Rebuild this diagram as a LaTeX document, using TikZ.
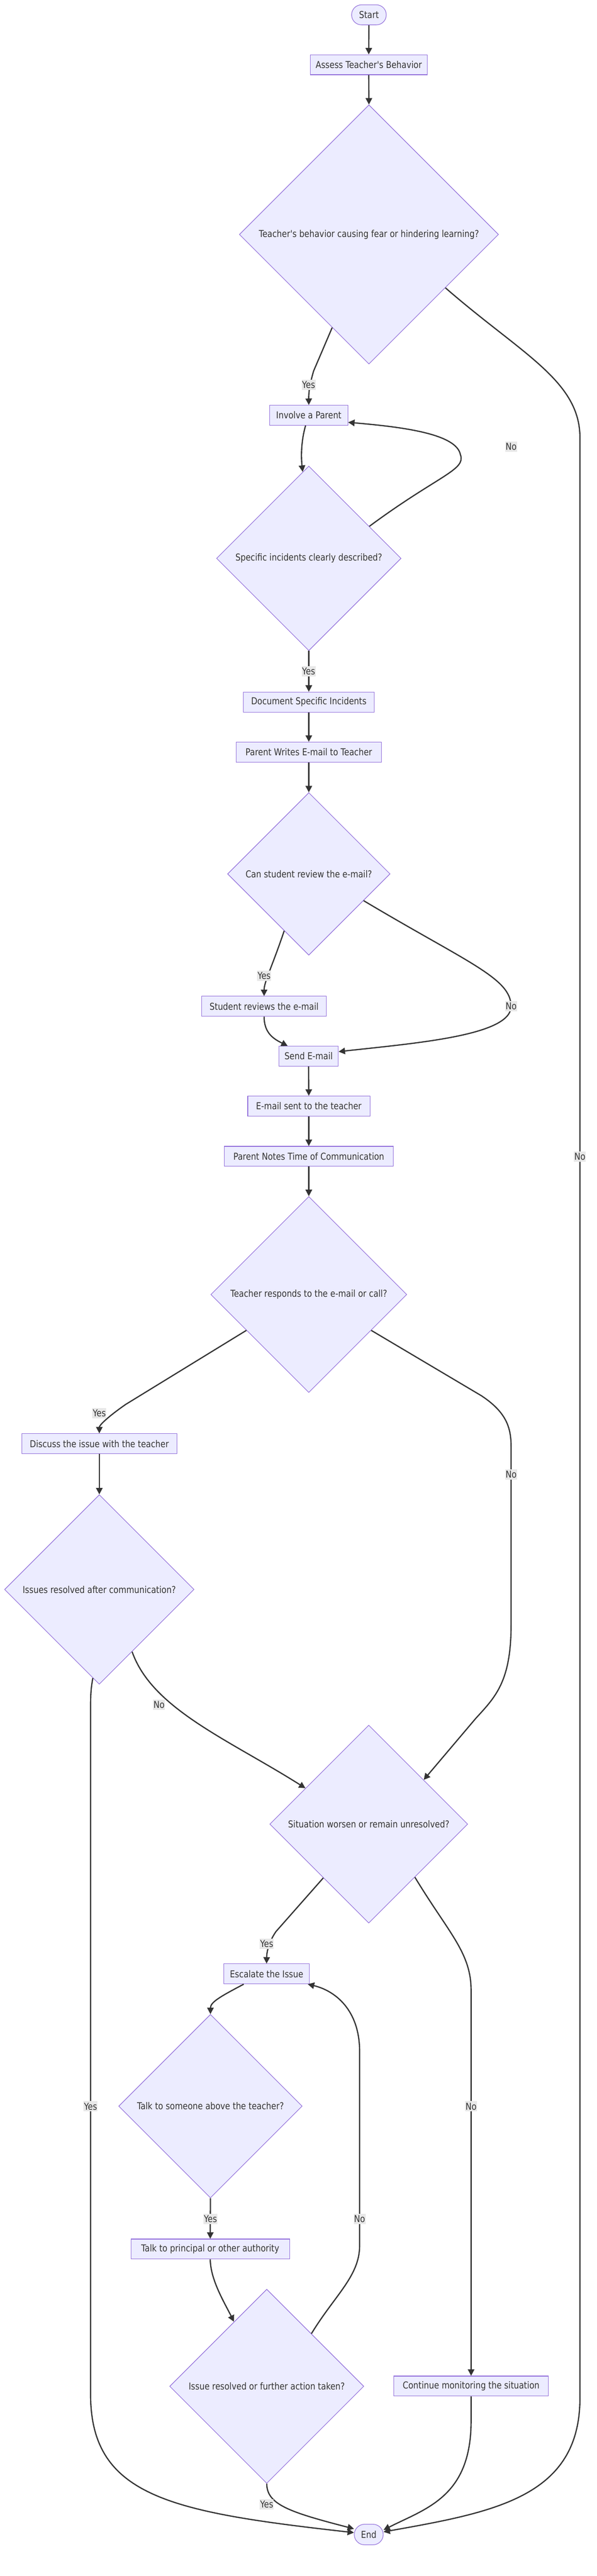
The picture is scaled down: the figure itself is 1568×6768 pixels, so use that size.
\documentclass[tikz,border=0pt]{standalone}
\usepackage{fontspec}
\newfontfamily\mfont{DejaVu Sans}[FakeStretch=0.85]
\usetikzlibrary{shapes.geometric,arrows.meta,calc}
\definecolor{nfill}{HTML}{ECECFF}
\definecolor{nline}{HTML}{9370DB}
\definecolor{eline}{HTML}{333333}
\definecolor{lfill}{HTML}{E8E8E8}
\definecolor{tcol}{HTML}{333333}
\tikzset{
  base/.style={draw=nline, fill=nfill, line width=1.5pt, text=tcol, font=\mfont\fontsize{25}{30}\selectfont, inner sep=0pt},
  proc/.style={base, rectangle, minimum height=52.6pt},
  term/.style={base, rectangle, rounded corners=26pt, minimum height=52.6pt},
  dec/.style={base, diamond, aspect=1},
  edge/.style={draw=eline, line width=3.2pt, -{Triangle[length=17pt,width=17pt]}},
  lbl/.style={fill=lfill, text=tcol, font=\mfont\fontsize{25}{30}\selectfont, inner xsep=1pt, inner ysep=0pt, minimum height=27pt},
}
\begin{document}
\begin{tikzpicture}[x=1pt,y=-1pt]
\fill[white] (0,0) rectangle (1568,6768);
\useasboundingbox (0,0) rectangle (1568,6768);

% nodes
\node[term, minimum width=91pt] (start) at (969.5,39) {Start};
\node[proc, minimum width=308pt] (assess) at (969,170) {Assess Teacher's Behavior};
\node[dec, minimum size=681pt] (d1) at (969.5,616) {\makebox[0pt]{Teacher's behavior causing fear or hindering learning?}};
\node[proc, minimum width=205pt] (involve) at (811.5,1091) {Involve a Parent};
\node[dec, minimum size=485pt] (d2) at (811.5,1467) {\makebox[0pt]{Specific incidents clearly described?}};
\node[proc, minimum width=343pt] (doc) at (811.5,1844.5) {Document Specific Incidents};
\node[proc, minimum width=381pt] (writes) at (811.5,1976) {Parent Writes E-mail to Teacher};
\node[dec, minimum size=427pt] (d3) at (811.5,2296) {\makebox[0pt]{Can student review the e-mail?}};
\node[proc, minimum width=328pt] (student) at (694,2644) {Student reviews the e-mail};
\node[proc, minimum width=156pt] (send) at (811,2775) {Send E-mail};
\node[proc, minimum width=321pt] (sent) at (811.5,2906) {E-mail sent to the teacher};
\node[proc, minimum width=443pt] (notes) at (811.5,3038) {Parent Notes Time of Communication};
\node[dec, minimum size=515pt] (d4) at (811.5,3401) {\makebox[0pt]{Teacher responds to the e-mail or call?}};
\node[proc, minimum width=408pt] (discuss) at (261,3793) {Discuss the issue with the teacher};
\node[dec, minimum size=498pt] (d5) at (261,4176) {\makebox[0pt]{Issues resolved after communication?}};
\node[dec, minimum size=520pt] (d6) at (969,4792.5) {\makebox[0pt]{Situation worsen or remain unresolved?}};
\node[proc, minimum width=225pt] (escalate) at (700.5,5186) {Escalate the Issue};
\node[dec, minimum size=482pt] (d7) at (553,5533.5) {\makebox[0pt]{Talk to someone above the teacher?}};
\node[proc, minimum width=417pt] (principal) at (552.5,5909) {Talk to principal or other authority};
\node[dec, minimum size=510pt] (d8) at (701,6269.5) {\makebox[0pt]{Issue resolved or further action taken?}};
\node[proc, minimum width=406pt] (monitor) at (1238,6269) {Continue monitoring the situation};
\node[term, minimum width=76pt, minimum height=54pt, rounded corners=27pt] (end) at (969,6659) {End};

% edges
\draw[edge] (start.south) -- (assess.north);
\draw[edge] (assess.south) -- (d1.north);
\draw[edge] ($(d1.south)!0.283!(d1.west)$) -- (824,975) .. controls (814,1010) and (811,1030) .. (involve.north);
\draw[edge] ($(d1.south)!0.589!(d1.east)$) .. controls (1370,930) and (1524,1000) .. (1524,1150) -- (1524,6300) .. controls (1524,6560) and (1300,6600) .. ($(end.east)+(0,-7)$);
\draw[edge] ($(involve.south)+(-8.5,0)$) .. controls (791,1160) and (791,1200) .. ($(d2.north)!0.066!(d2.west)$);
\draw[edge] ($(d2.north)!0.654!(d2.east)$) .. controls (1150,1250) and (1225,1235) .. (1210,1195) .. controls (1200,1140) and (1060,1122) .. ($(involve.east)+(0,18.6)$);
\draw[edge] (d2.south) -- (doc.north);
\draw[edge] (doc.south) -- (writes.north);
\draw[edge] (writes.south) -- (d3.north);
\draw[edge] ($(d3.south)!0.302!(d3.west)$) .. controls (715,2540) and (694,2580) .. (student.north);
\draw[edge] ($(d3.south)!0.672!(d3.east)$) .. controls (1230,2530) and (1343,2570) .. (1343,2644) .. controls (1343,2720) and (1100,2740) .. ($(send.east)+(0,-12)$);
\draw[edge] (student.south) .. controls (694,2715) and (720,2730) .. ($(send.north)+(-55,0)$);
\draw[edge] (send.south) -- (sent.north);
\draw[edge] (sent.south) -- (notes.north);
\draw[edge] (notes.south) -- (d4.north);
\draw[edge] ($(d4.south)!0.635!(d4.west)$) -- (330,3690) .. controls (280,3725) and (261,3745) .. (discuss.north);
\draw[edge] ($(d4.south)!0.635!(d4.east)$) -- (1265,3667) .. controls (1330,3710) and (1343,3750) .. (1343,3800) -- (1343,4270) .. controls (1343,4420) and (1300,4460) .. (1250,4515) -- ($(d6.north)!0.554!(d6.east)$);
\draw[edge] (discuss.south) -- (d5.north);
\draw[edge] ($(d5.south)!0.345!(d5.east)$) .. controls (400,4490) and (600,4570) .. ($(d6.north)!0.638!(d6.west)$);
\draw[edge] ($(d5.south)!0.068!(d5.west)$) .. controls (238,4440) and (238,4460) .. (238,4500) -- (238,6290) .. controls (238,6560) and (450,6600) .. ($(end.west)+(0,-5)$);
\draw[edge] ($(d6.south)!0.458!(d6.west)$) -- (725,5075) .. controls (708,5100) and (701,5125) .. (escalate.north);
\draw[edge] ($(d6.south)!0.465!(d6.east)$) .. controls (1180,5080) and (1238,5130) .. (1238,5230) -- (monitor.north);
\draw[edge] ($(escalate.south)+(-60,0)$) .. controls (580,5245) and (553,5260) .. (d7.north);
\draw[edge] (d7.south) -- (principal.north);
\draw[edge] (principal.south) .. controls (553,5990) and (590,6050) .. ($(d8.north)!0.337!(d8.west)$);
\draw[edge] ($(d8.north)!0.459!(d8.east)$) .. controls (880,6030) and (945,5980) .. (945,5900) -- (945,5390) .. controls (945,5280) and (880,5230) .. ($(escalate.south east)+(-5,0)$);
\draw[edge] (d8.south) .. controls (701,6580) and (760,6600) .. ($(end.west)+(0,-15)$);
\draw[edge] (monitor.south) -- (1238,6360) .. controls (1238,6560) and (1120,6590) .. ($(end.east)+(0,-12)$);

% labels
\node[lbl] (l1) at (811,1011) {Yes};
\node[lbl] (l2) at (1343,1173) {No};
\node[lbl] (l3) at (811,1764) {Yes};
\node[lbl] (l4) at (694,2564) {Yes};
\node[lbl] (l5) at (1343,2644) {No};
\node[lbl] (l6) at (1524,3038.6) {No};
\node[lbl] (l7) at (261,3712.6) {Yes};
\node[lbl] (l8) at (1343,3874) {No};
\node[lbl] (l9) at (418,4479) {No};
\node[lbl] (l10) at (701,5107) {Yes};
\node[lbl] (l11) at (238,5534) {Yes};
\node[lbl] (l12) at (1238,5534) {No};
\node[lbl] (l13) at (553,5829.5) {Yes};
\node[lbl] (l14) at (945,5829.5) {No};
\node[lbl] (l15) at (701,6579.5) {Yes};
\end{tikzpicture}
\end{document}
